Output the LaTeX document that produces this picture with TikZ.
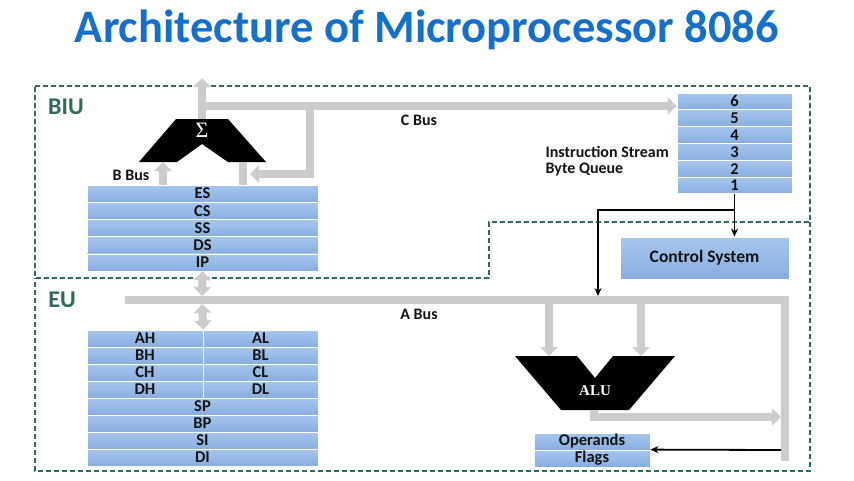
\documentclass[tikz,border=0pt]{standalone}
\usepackage{fontspec}
\setmainfont{Carlito}
\newfontfamily\serifalu{Liberation Serif}
\usetikzlibrary{arrows.meta}
\definecolor{titleblue}{HTML}{1470CC}
\definecolor{unitgreen}{HTML}{2E6B5C}
\definecolor{busgray}{HTML}{CCCCCC}
\definecolor{regtop}{HTML}{A6C6EE}
\definecolor{regbot}{HTML}{88AEDF}
\definecolor{labelblack}{HTML}{141414}
\begin{document}
\begin{tikzpicture}[x=1pt,y=-1pt,
  reg/.style={rectangle, draw=white, line width=0.8pt, top color=regtop, bottom color=regbot,
    inner sep=0pt, minimum height=17pt, text=labelblack, font=\bfseries\fontsize{16.5}{16.5}\selectfont},
  bus/.style={draw=busgray, line width=8pt, line join=miter},
  busarrow/.style={bus, -{Triangle[length=9pt,width=17pt]}},
  busdouble/.style={bus, {Triangle[length=9pt,width=17pt]}-{Triangle[length=9pt,width=17pt]}},
  sig/.style={draw=black, line width=1.8pt, -{Stealth[length=8pt,width=7pt]}},
  unit/.style={draw=unitgreen, line width=1.6pt, dash pattern=on 5pt off 3pt},
  unitlabel/.style={text=unitgreen, font=\bfseries\fontsize{24}{24}\selectfont},
  lab/.style={text=labelblack, font=\bfseries\fontsize{16}{16}\selectfont},
  block/.style={fill=black, draw=none}
]
\useasboundingbox (0,0) rectangle (854,480);
\fill[white] (0,0) rectangle (854,480);

% title
\node[text=titleblue, font=\bfseries\fontsize{46.5}{46.5}\selectfont] (title) at (427,30) {Architecture of Microprocessor 8086};

% unit outlines
\draw[unit] (35,86) -- (810,86) -- (810,222) -- (489,222) -- (489,278) -- (35,278) -- cycle;
\draw[unit] (810,222) -- (810,471) -- (35,471) -- (35,278);
\node[unitlabel] (biu) at (66,107) {BIU};
\node[unitlabel] (eu) at (62,300) {EU};

% adder
\fill[block] (176,119) -- (228,119) -- (266,162) -- (228,162) -- (202,144) -- (177,162) -- (139,162) -- cycle;
\node[text=white, font=\serifalu\fontsize{22}{22}\selectfont] (sigma) at (202,130) {Σ};

% segment registers
\node[reg, minimum width=231pt] (es) at (202.5,193.6) {ES};
\node[reg, minimum width=231pt] (cs) at (202.5,210.8) {CS};
\node[reg, minimum width=231pt] (ss) at (202.5,228.0) {SS};
\node[reg, minimum width=231pt] (ds) at (202.5,245.2) {DS};
\node[reg, minimum width=231pt] (ip) at (202.5,262.4) {IP};

% instruction queue
\node[reg, minimum width=115pt, minimum height=16.8pt] (q6) at (734.5,101.4) {6};
\node[reg, minimum width=115pt, minimum height=16.8pt] (q5) at (734.5,118.2) {5};
\node[reg, minimum width=115pt, minimum height=16.8pt] (q4) at (734.5,135.0) {4};
\node[reg, minimum width=115pt, minimum height=16.8pt] (q3) at (734.5,151.8) {3};
\node[reg, minimum width=115pt, minimum height=16.8pt] (q2) at (734.5,168.6) {2};
\node[reg, minimum width=115pt, minimum height=16.8pt] (q1) at (734.5,185.4) {1};
\node[lab, anchor=west] (iss) at (542,152) {Instruction Stream};
\node[lab, anchor=west] (bq) at (542,170) {Byte Queue};

% control system
\node[reg, minimum width=169pt, minimum height=42pt, font=\bfseries\fontsize{17.5}{17.5}\selectfont] (ctrl) at (704.5,258) {Control System};

% general registers
\node[reg, minimum width=116pt] (ah) at (145,338.5) {AH};
\node[reg, minimum width=115pt] (al) at (260.5,338.5) {AL};
\node[reg, minimum width=116pt] (bh) at (145,355.5) {BH};
\node[reg, minimum width=115pt] (bl) at (260.5,355.5) {BL};
\node[reg, minimum width=116pt] (ch) at (145,372.5) {CH};
\node[reg, minimum width=115pt] (cl) at (260.5,372.5) {CL};
\node[reg, minimum width=116pt] (dh) at (145,389.5) {DH};
\node[reg, minimum width=115pt] (dl) at (260.5,389.5) {DL};
\node[reg, minimum width=231pt] (sp) at (202.5,406.5) {SP};
\node[reg, minimum width=231pt] (bp) at (202.5,423.5) {BP};
\node[reg, minimum width=231pt] (si) at (202.5,440.5) {SI};
\node[reg, minimum width=231pt] (di) at (202.5,457.5) {DI};

% ALU
\fill[block] (515,356) -- (577,356) -- (595,378) -- (613,356) -- (675,356) -- (629,410) -- (561,410) -- cycle;
\node[text=white, font=\serifalu\bfseries\fontsize{15}{15}\selectfont] (alu) at (595,391) {ALU};

% operands / flags
\node[reg, minimum width=116pt] (ops) at (592,441.5) {Operands};
\node[reg, minimum width=116pt] (flags) at (592,458.5) {Flags};

% coordinates for buses
\coordinate (addtop) at (202,119);
\coordinate (addout) at (202,78);
\coordinate (cbl) at (198,106);
\coordinate (cbj) at (310,106);
\coordinate (cbk) at (310,174);
\coordinate (cbe) at (250,174);
\coordinate (addinr) at (243,162);
\coordinate (addinl) at (163,162);
\coordinate (abl) at (125,300);
\coordinate (abr) at (785,300);
\coordinate (abb) at (785,461);
\coordinate (abt) at (202,296);
\coordinate (abbot) at (202,304);
\coordinate (alua) at (549,356);
\coordinate (alub) at (641,356);
\coordinate (aluo) at (594,410);
\coordinate (aluoc) at (594,417);
\coordinate (aluoe) at (781,417);
\coordinate (flagsrc) at (781,450);
\coordinate (qbr) at (734,210);
\coordinate (qbl) at (598,210);
\coordinate (qin) at (598,296);

% gray buses
\draw[busarrow] (addtop) -- (addout);
\draw[busarrow] (cbl) -- (q6.west |- cbl);
\draw[busarrow] (cbj) -- (cbk) -- (cbe);
\draw[bus] (es.north -| addinr) -- (addinr);
\draw[busarrow] (es.north -| addinl) -- (addinl);
\node[lab] (bbus) at (131,175) {B Bus};
\node[lab] (cbus) at (419,120) {C Bus};

\draw[bus] (abl) -- (abr) -- (abb);
\node[lab] (abus) at (419,314) {A Bus};
\draw[busdouble] (ip.south) -- (abt);
\draw[busdouble] (abbot) -- (ah.north east);
\draw[busarrow] (alua |- abr) -- (alua);
\draw[busarrow] (alub |- abr) -- (alub);
\draw[busarrow] (aluo) -- (aluoc) -- (aluoe);

% black signal arrows
\draw[sig] (q1.south) -- (ctrl.north -| q1.south);
\draw[sig] (qbr) -- (qbl) -- (qin);
\draw[sig] (flagsrc) -- (flags.north east);
\end{tikzpicture}
\end{document}
